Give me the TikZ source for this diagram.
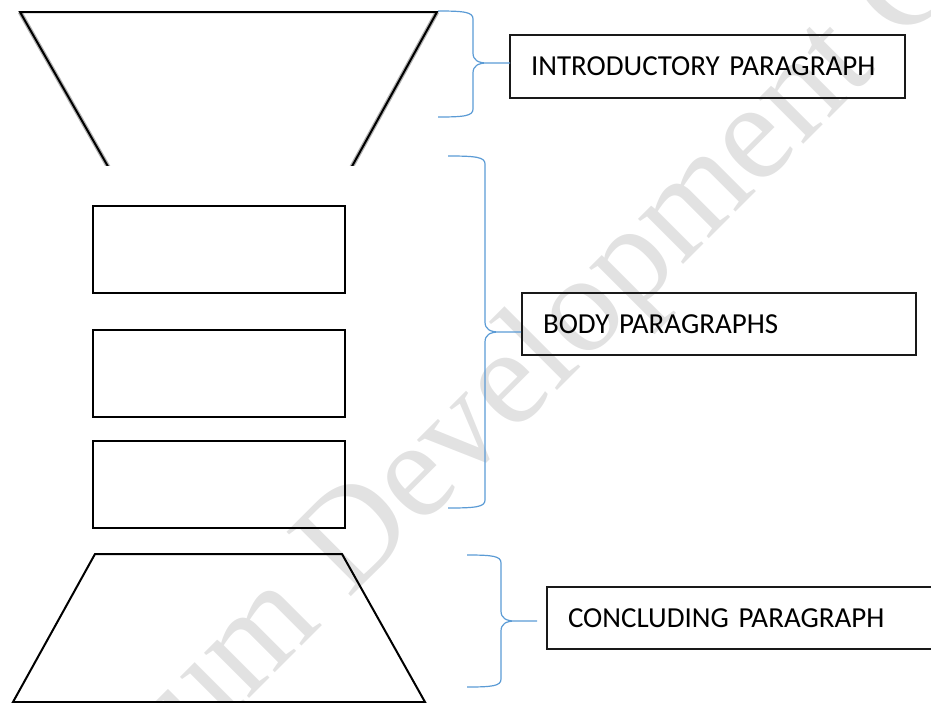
\documentclass[tikz,border=0pt]{standalone}
\usepackage{fontspec}
\setmainfont{Carlito}
\newfontfamily\markfont{Liberation Serif}
\definecolor{bracecol}{RGB}{91,155,213}
\definecolor{markcol}{RGB}{226,226,226}
% curly brace opening to the right:
% #1 x of the ends, #2 x of the spine, #3 x of the tip,
% #4 y of the top end, #5 y of the tip, #6 y of the bottom end
\newcommand\drawbrace[6]{%
  \draw[bracket] (#1,#4) .. controls ({#1+0.75*(#2-#1)},#4) and (#2,{#4+1}) .. (#2,{#4+8})
    -- (#2,{#5-10}) .. controls (#2,{#5-3}) and ({#2+5},{#5}) .. ({#2+14},#5) -- (#3,#5)
    ({#2+14},#5) .. controls ({#2+5},{#5}) and (#2,{#5+3}) .. (#2,{#5+10})
    -- (#2,{#6-8}) .. controls (#2,{#6-1}) and ({#1+0.75*(#2-#1)},#6) .. (#1,#6);}
\begin{document}
\begin{tikzpicture}[x=1pt,y=-1pt,
  labelbox/.style={draw=black!90, line width=1.3pt, rectangle, anchor=north west,
    outer sep=0pt, inner xsep=21pt, inner ysep=0pt, align=left,
    font=\fontsize{29}{34}\selectfont},
  blankbox/.style={draw, line width=2pt, rectangle, anchor=north west, outer sep=0pt,
    inner sep=0pt, minimum width=252pt, minimum height=87pt},
  outline/.style={line width=2pt, line join=miter},
  halo/.style={line width=4.5pt, black!30},
  bracket/.style={draw=bracecol, line width=1.2pt},
]
\useasboundingbox (0,0) rectangle (931,702);
\clip (0,0) rectangle (931,702);

% watermark behind everything
\node[rotate=45, anchor=base west, text=markcol, inner sep=0pt,
  font=\markfont\fontsize{139}{139}\selectfont] (mark) at (198,750) {um Development C};

% open funnel at the top
\begin{scope}
  \clip (0,0) rectangle (931,165);
  \draw[halo] (20,12) -- (110,170);
  \draw[halo] (437,12) -- (350,170);
  \draw[outline] (110,170) -- (20,12) -- (437,12) -- (350,170);
\end{scope}

% body paragraph blocks
\node[blankbox] (b1) at (93,206) {};
\node[blankbox] (b2) at (93,330) {};
\node[blankbox] (b3) at (93,441) {};

% closing trapezoid
\draw[outline] (13,702) -- (95,554) -- (342,554) -- (425,702) -- cycle;

% labels
\node[labelbox, text width=353pt, minimum height=63pt] (intro) at (510,35) {INTRODUCTORY PARAGRAPH};
\node[labelbox, text width=352pt, minimum height=62pt] (body) at (522,293) {BODY PARAGRAPHS};
\node[labelbox, text width=348pt, minimum height=62pt] (concl) at (547,587) {CONCLUDING PARAGRAPH};

% braces
\drawbrace{438}{473}{510}{11}{63}{117}
\drawbrace{448}{485}{521}{156}{332}{508}
\drawbrace{467}{501}{537}{555}{621}{687}
\end{tikzpicture}
\end{document}
